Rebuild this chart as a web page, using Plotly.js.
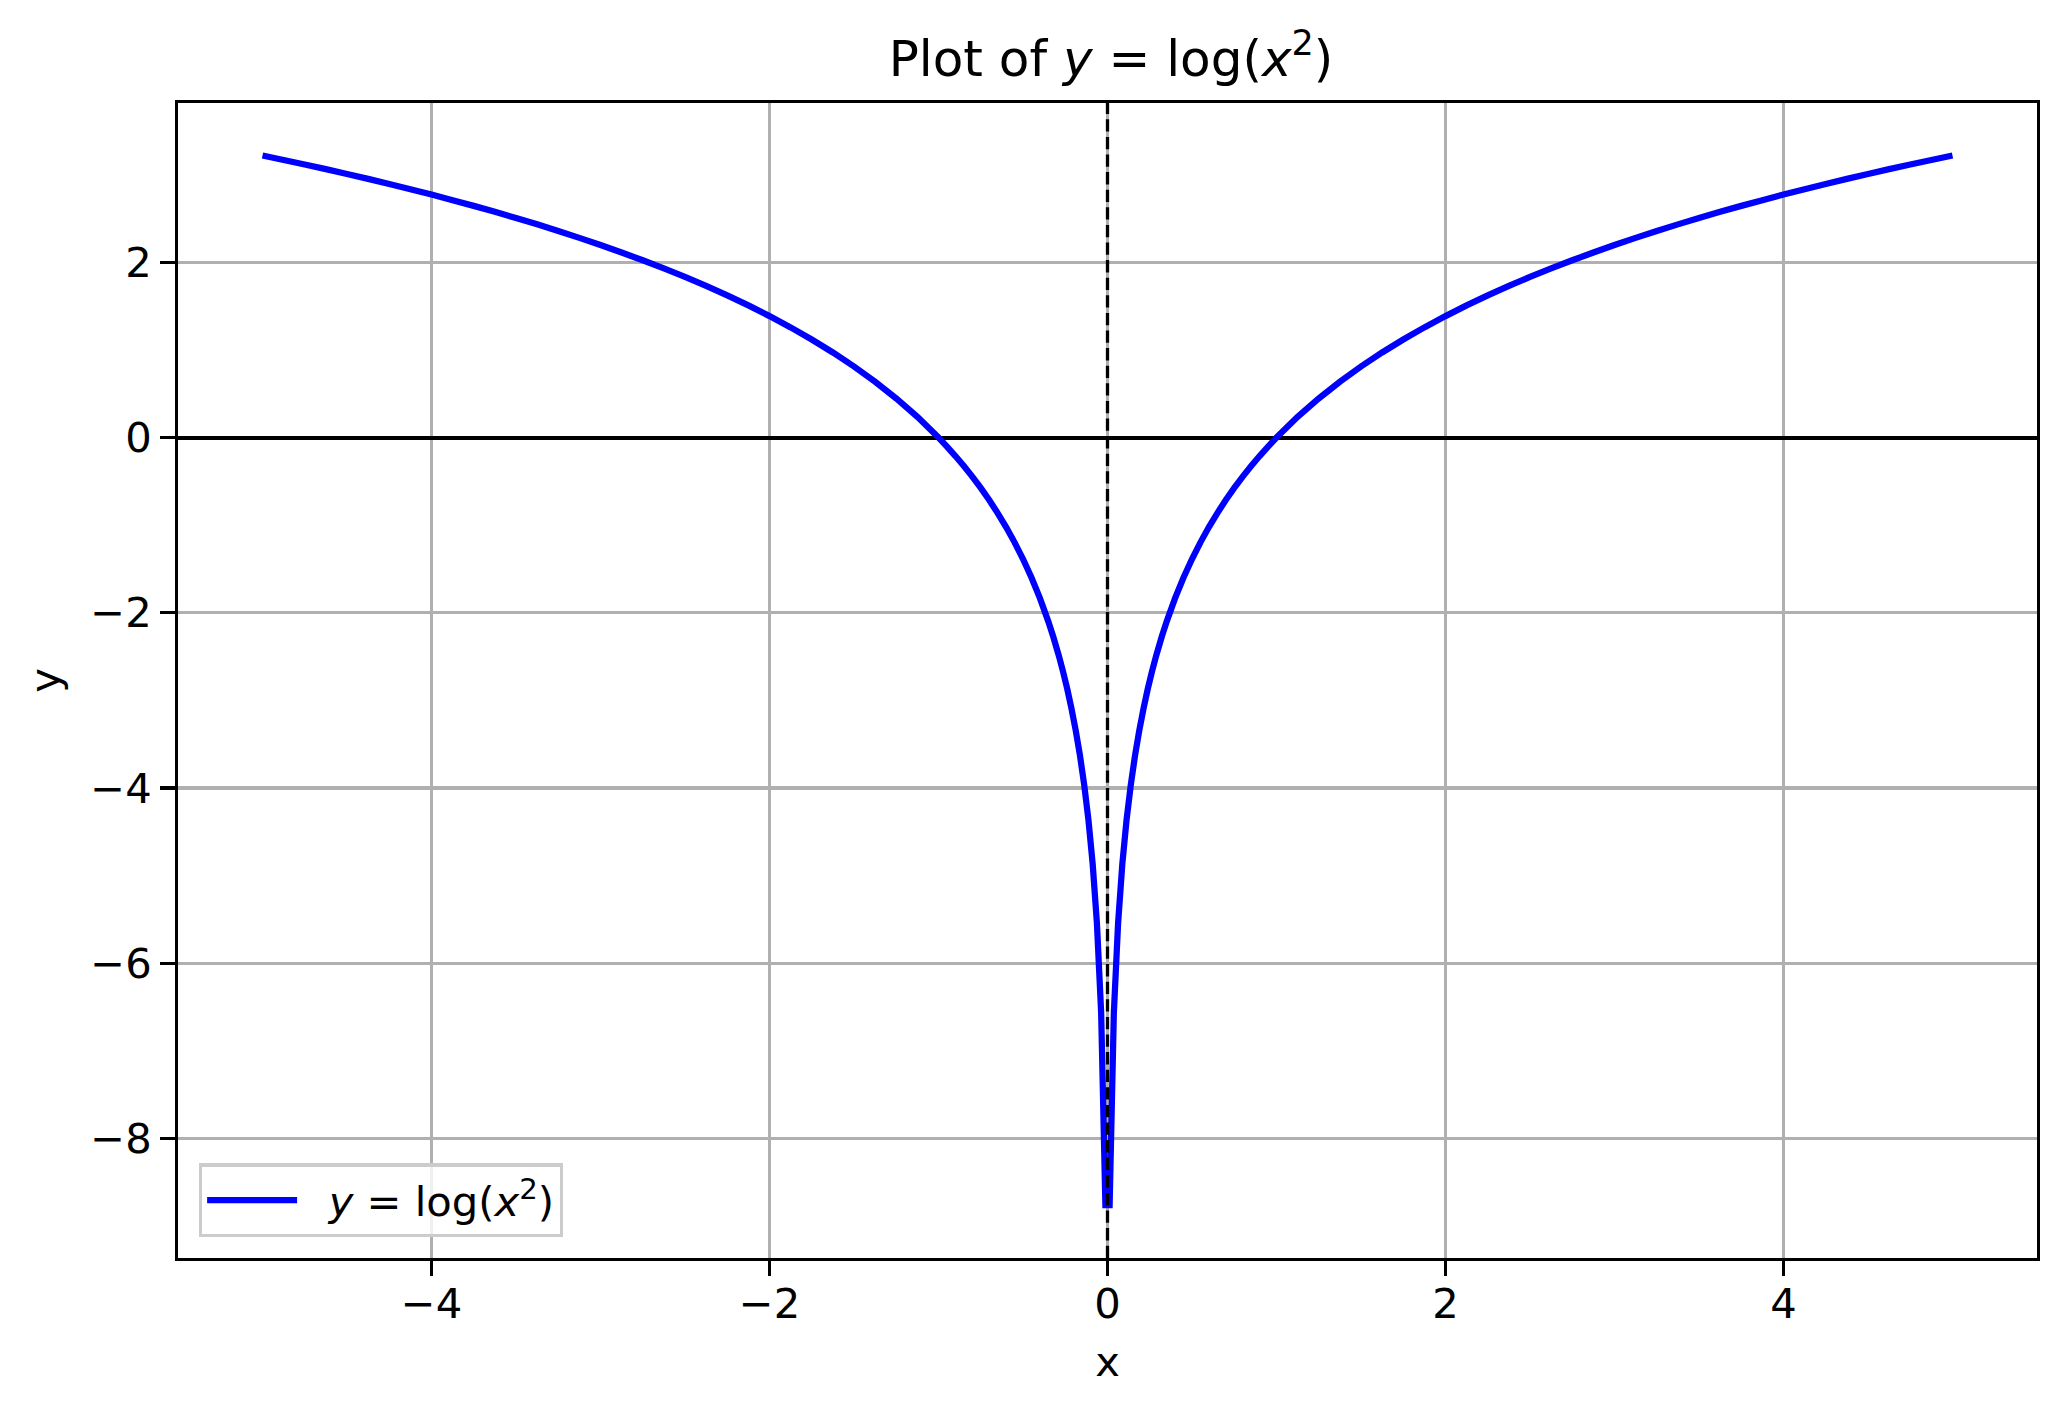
<!DOCTYPE html>
<html>
<head>
<meta charset="utf-8">
<script src="https://cdn.plot.ly/plotly-3.0.1.min.js"></script>
<style>
  html, body { margin: 0; padding: 0; background: #fff; }
  #chart { width: 2067px; height: 1412px; }
</style>
</head>
<body>
<div id="chart"></div>
<script>
const xValues = [
  -5, -4.875, -4.75, -4.625, -4.5, -4.375, -4.25, -4.125, -4, -3.875, -3.75, -3.625,
  -3.5, -3.375, -3.25, -3.125, -3, -2.875, -2.75, -2.625, -2.5, -2.375, -2.25, -2.125,
  -2, -1.875, -1.75, -1.625, -1.5, -1.375, -1.25, -1.125, -1,
  -0.95, -0.9, -0.85, -0.8, -0.75, -0.7, -0.65, -0.6, -0.55, -0.5, -0.45, -0.4,
  -0.35, -0.32, -0.2882, -0.2632, -0.2381, -0.213, -0.188, -0.1629, -0.1378, -0.1128,
  -0.0877, -0.0627, -0.0376, -0.0125,
  0.0125, 0.0376, 0.0627, 0.0877,
  0.1128, 0.1378, 0.1629, 0.188, 0.213, 0.2381, 0.2632, 0.2882, 0.32, 0.35,
  0.4, 0.45, 0.5, 0.55, 0.6, 0.65, 0.7, 0.75, 0.8, 0.85, 0.9, 0.95,
  1, 1.125, 1.25, 1.375, 1.5, 1.625, 1.75, 1.875, 2,
  2.125, 2.25, 2.375, 2.5, 2.625, 2.75, 2.875, 3, 3.125, 3.25, 3.375, 3.5,
  3.625, 3.75, 3.875, 4, 4.125, 4.25, 4.375, 4.5, 4.625, 4.75, 4.875, 5
];
const yValues = [
  3.219, 3.168, 3.116, 3.063, 3.008, 2.952, 2.894, 2.834, 2.773, 2.709, 2.644, 2.576,
  2.506, 2.433, 2.357, 2.279, 2.197, 2.112, 2.023, 1.930, 1.833, 1.730, 1.622, 1.508,
  1.386, 1.257, 1.119, 0.971, 0.811, 0.637, 0.446, 0.236, 0,
  -0.103, -0.211, -0.325, -0.446, -0.575, -0.713, -0.862, -1.022, -1.196, -1.386, -1.597, -1.833,
  -2.100, -2.279, -2.488, -2.670, -2.870, -3.093, -3.343, -3.629, -3.964, -4.364,
  -4.867, -5.540, -6.562, -8.759,
  -8.759, -6.562, -5.540, -4.867,
  -4.364, -3.964, -3.629, -3.343, -3.093, -2.870, -2.670, -2.488, -2.279, -2.100,
  -1.833, -1.597, -1.386, -1.196, -1.022, -0.862, -0.713, -0.575, -0.446, -0.325, -0.211, -0.103,
  0, 0.236, 0.446, 0.637, 0.811, 0.971, 1.119, 1.257, 1.386,
  1.508, 1.622, 1.730, 1.833, 1.930, 2.023, 2.112, 2.197, 2.279, 2.357, 2.433, 2.506,
  2.576, 2.644, 2.709, 2.773, 2.834, 2.894, 2.952, 3.008, 3.063, 3.116, 3.168, 3.219
];
const seriesName = "\u00a0\u00a0<i>y</i> = log(<i>x</i><sup>2</sup>)";
const titleText = "Plot of <i>y</i> = log(<i>x</i><sup>2</sup>)";
const xRange = [-5.5, 5.5];
const yRange = [-9.363, 3.818];

const font = "DejaVu Sans, sans-serif";

const trace = {
  x: xValues,
  y: yValues,
  mode: "lines",
  type: "scatter",
  name: seriesName,
  line: { color: "#0000ff", width: 6.25, simplify: false },
};

const axisCommon = {
  showline: true,
  mirror: true,
  linecolor: "#000",
  linewidth: 3.3,
  ticks: "outside",
  ticklen: 14.6,
  tickwidth: 3.3,
  tickcolor: "#000",
  showgrid: true,
  gridcolor: "#b0b0b0",
  gridwidth: 3.3,
  tickfont: { family: font, size: 41.7, color: "#000" },
  dtick: 2,
  tick0: 0,
};

const layout = {
  width: 2067,
  height: 1412,
  paper_bgcolor: "#fff",
  plot_bgcolor: "#fff",
  font: { family: font, size: 41.7, color: "#000" },
  margin: { l: 178, r: 30, t: 102.5, b: 153.5, pad: 0 },
  title: {
    text: titleText,
    font: { family: font, size: 50, color: "#000" },
    x: 0.5375,
    xanchor: "center",
    y: 1 - 58 / 1412,
    yanchor: "middle",
  },
  xaxis: {
    ...axisCommon,
    range: xRange,
    zeroline: false,
    ticklabelstandoff: -8,
    title: { text: "x", font: { family: font, size: 41.7 }, standoff: 21 },
  },
  yaxis: {
    ...axisCommon,
    range: yRange,
    zeroline: true,
    zerolinecolor: "#000",
    zerolinewidth: 4,
    title: { text: "y", font: { family: font, size: 41.7 }, standoff: 18 },
  },
  showlegend: true,
  legend: {
    x: 0.0112,
    y: 0.018,
    xanchor: "left",
    yanchor: "bottom",
    bgcolor: "rgba(255,255,255,0.8)",
    bordercolor: "#cccccc",
    borderwidth: 3.3,
    itemwidth: 90,
    font: { family: font, size: 41.7, color: "#000" },
  },
  shapes: [
    {
      // dashed vertical reference line at x = 0
      type: "line",
      xref: "x",
      yref: "paper",
      x0: 0,
      x1: 0,
      y0: 0,
      y1: 1,
      line: { color: "#000", width: 3.3, dash: "12.3px,5.3px" },
      layer: "above",
    },
  ],
};

Plotly.newPlot("chart", [trace], layout, { staticPlot: true });
</script>
</body>
</html>
